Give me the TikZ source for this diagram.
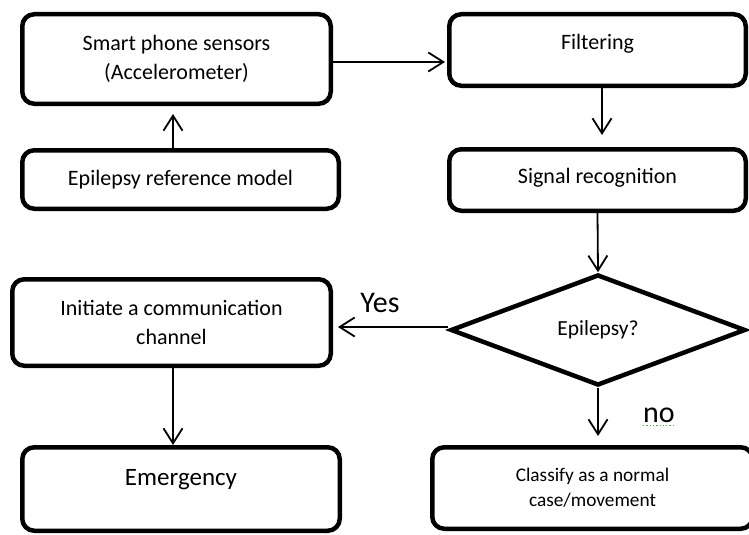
\documentclass[tikz,border=0pt]{standalone}
\usepackage{fontspec}
\setmainfont{Carlito}
\usetikzlibrary{arrows.meta,shapes.geometric}
\definecolor{spellgreen}{RGB}{90,170,70}
\newcommand\liftby[2]{\raisebox{#1}[\height][\depth]{#2}}
\begin{document}
\begin{tikzpicture}[x=1pt,y=-1pt,
  box/.style={draw, line width=4.5pt, rounded corners=12pt, inner sep=0pt, align=center,
              font=\fontsize{22}{29}\selectfont},
  dia/.style={draw, shape=diamond, line width=4.5pt, inner sep=0pt, align=center,
              font=\fontsize{21.5}{29}\selectfont},
  arr/.style={line width=1.8pt, -{Straight Barb[length=15pt,width=19pt,line width=1.8pt]}},
  lbl/.style={inner sep=0pt, font=\fontsize{30}{34}\selectfont}]
\useasboundingbox (0,0) rectangle (749,535);

\node[box, minimum width=308.5pt, minimum height=89.5pt] (sens) at (176.5,59) {Smart phone sensors\\(Accelerometer)};
\node[box, minimum width=316.5pt, minimum height=58.5pt] (ref) at (180.5,179.5) {Epilepsy reference model};
\node[box, minimum width=296.5pt, minimum height=71.5pt] (filt) at (597.5,50) {\liftby{6pt}{Filtering}};
\node[box, minimum width=296.5pt, minimum height=61.5pt] (sig) at (597.5,180) {\liftby{2pt}{Signal recognition}};
\node[dia, minimum width=295pt, minimum height=111pt] (dia) at (598,330) {Epilepsy?};
\node[box, minimum width=318.5pt, minimum height=86.5pt] (init) at (171.5,322.5) {Initiate a communication\\channel};
\node[box, minimum width=317.5pt, minimum height=83.5pt, font=\fontsize{25}{30}\selectfont] (emer) at (181,489) {\liftby{9pt}{Emergency}};
\node[box, minimum width=320.5pt, minimum height=81.5pt, font=\fontsize{19.3}{25}\selectfont] (cls) at (592.5,488) {Classify as a normal\\case/movement};

\node[lbl] (yes) at (380,302.5) {Yes};
\node[lbl] (no) at (659,415) {no};
\draw[spellgreen, dotted, line width=1.3pt] ([yshift=-3pt]no.south west) -- ([yshift=-3pt]no.south east);

\draw[arr, shorten >=2pt] ([yshift=-3pt]sens.east) -- ([yshift=-3pt]sens.east -| filt.west);
\draw[arr, shorten >=8pt] ([xshift=-7.5pt]ref.north) -- ([xshift=-7.5pt]ref.north |- sens.south);
\draw[arr, shorten >=12pt] ([xshift=4.5pt]filt.south) -- ([xshift=4.5pt]filt.south |- sig.north);
\draw[arr] (sig.south) -- (dia.north);
\draw[arr, shorten >=5pt] ([yshift=3pt]dia.west) -- ([yshift=3pt]dia.west -| init.east);
\draw[arr] ([xshift=1.5pt]init.south) -- ([xshift=1.5pt]init.south |- emer.north);
\draw[arr, shorten >=9pt] (dia.south) -- (dia.south |- cls.north);
\end{tikzpicture}
\end{document}
